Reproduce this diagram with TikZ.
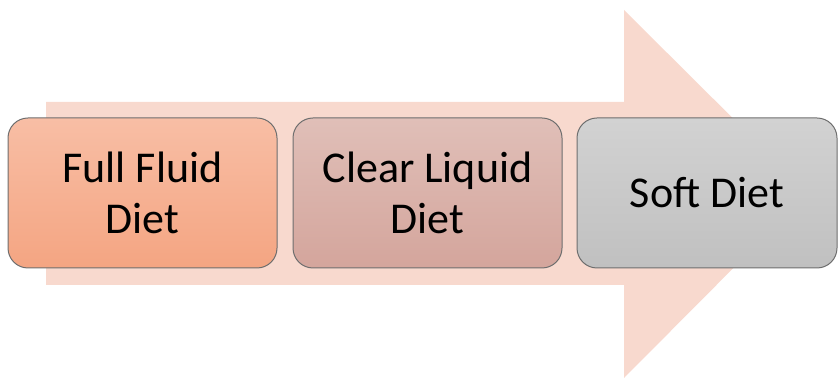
\documentclass[tikz,border=0pt]{standalone}
\usepackage{fontspec}
\setmainfont{Carlito}
\usepackage{tikz}
\usetikzlibrary{positioning}
\usepackage{xcolor}

\definecolor{arrowfill}{HTML}{F8D9CE}
\definecolor{edgegray}{HTML}{6E6E6E}
\definecolor{fulltop}{HTML}{F8BEA5}
\definecolor{fullbot}{HTML}{F4A582}
\definecolor{cleartop}{HTML}{E0BFB8}
\definecolor{clearbot}{HTML}{D4A59C}
\definecolor{softtop}{HTML}{D2D2D2}
\definecolor{softbot}{HTML}{C0C0C0}

\begin{document}
\begin{tikzpicture}[
  x=1pt, y=1pt,
  stage/.style={draw=edgegray, line width=1pt, rounded corners=20pt,
    minimum height=150pt, align=center, text=black,
    font=\fontsize{44}{51}\selectfont},
  scale=1
]

\useasboundingbox (0,0) rectangle (838,379);

% ==================
% Big arrow
% ==================
\fill[arrowfill] (46,94) -- (624,94) -- (624,1) -- (808,186)
  -- (624,369) -- (624,277) -- (46,277) -- cycle;

% ==================
% Stages
% ==================
\node[stage, minimum width=269pt, top color=fulltop, bottom color=fullbot]
  (full) at (142.5,186) {Full Fluid\\Diet};
\node[stage, minimum width=269pt, top color=cleartop, bottom color=clearbot]
  (clear) at (427.5,186) {Clear Liquid\\Diet};
\node[stage, minimum width=260pt, top color=softtop, bottom color=softbot]
  (soft) at (707,186) {Soft Diet};
\end{tikzpicture}
\end{document}
